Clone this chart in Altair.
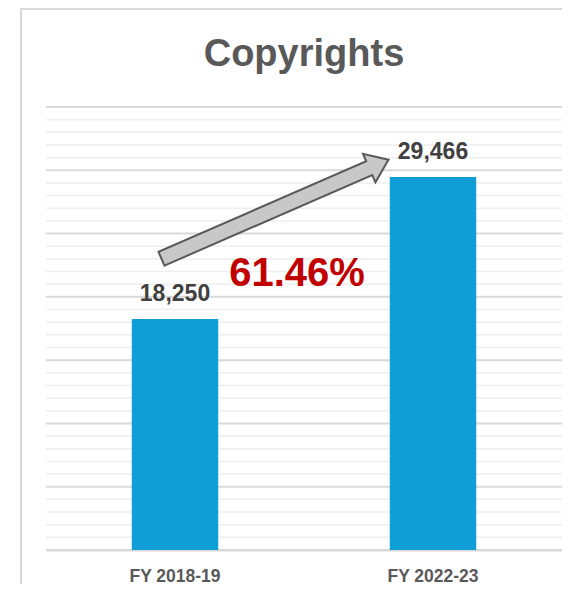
import math
import altair as alt
import pandas as pd

# ---- data ----
categories = ["FY 2018-19", "FY 2022-23"]
values = [18250, 29466]
grid_values = list(range(0, 35001, 1000))
growth_label = f"{(values[1] / values[0] - 1) * 100:.2f}%"

df = pd.DataFrame({"year": categories, "count": values})
ann = pd.DataFrame({"year": [categories[0]], "count": [values[0]], "label": [growth_label]})
grid_df = pd.DataFrame({"v": grid_values})

# ---- styling constants ----
FONT = "Liberation Sans"
W, H = 516, 443
PAD_BOTTOM = 34
BAR_COLOR = "#0F9ED5"
FRAME_COLOR = "#d9d9d9"

# arrow geometry (pixel offsets relative to top-centre of first bar)
tail = (-13.5, -60.3)
tip = (213.5, -159.3)
shaft_hw, head_hw, head_len = 7.5, 15.5, 21.0
dxa, dya = tip[0] - tail[0], tip[1] - tail[1]
L = math.hypot(dxa, dya)
ux, uy = dxa / L, dya / L
nx, ny = -uy, ux
bx, by = tip[0] - ux * head_len, tip[1] - uy * head_len
pts = [
    (tail[0] + nx * shaft_hw, tail[1] + ny * shaft_hw),
    (bx + nx * shaft_hw, by + ny * shaft_hw),
    (bx + nx * head_hw, by + ny * head_hw),
    tip,
    (bx - nx * head_hw, by - ny * head_hw),
    (bx - nx * shaft_hw, by - ny * shaft_hw),
    (tail[0] - nx * shaft_hw, tail[1] - ny * shaft_hw),
]
arrow_path = "M " + " L ".join(f"{px:.2f} {py:.2f}" for px, py in pts) + " Z"

yscale = alt.Scale(domain=[0, 35000], nice=False)
x_enc = alt.X(
    "year:N",
    sort=categories,
    title=None,
    scale=alt.Scale(paddingInner=0.665, paddingOuter=0.3325),
    axis=alt.Axis(
        labelFont=FONT, labelFontSize=17.5, labelFontWeight="bold", labelColor="#595959",
        ticks=False, tickSize=0, labelPadding=17, labelAngle=0,
        domainColor=FRAME_COLOR, domainWidth=2, grid=False,
    ),
)
x_plain = alt.X("year:N", sort=categories)

one = pd.DataFrame({"k": [0]})
frame_top = alt.Chart(one).mark_rect(color=FRAME_COLOR).encode(
    x=alt.value(-26), x2=alt.value(W), y=alt.value(-99), y2=alt.value(-97)
)
frame_left = alt.Chart(one).mark_rect(color=FRAME_COLOR).encode(
    x=alt.value(-26), x2=alt.value(-24), y=alt.value(-99), y2=alt.value(H + PAD_BOTTOM)
)

grid = alt.Chart(grid_df).mark_rule().encode(
    y=alt.Y("v:Q", scale=yscale, axis=None),
    x=alt.value(0),
    x2=alt.value(W),
    color=alt.condition("datum.v % 5000 === 0", alt.value("#d9d9d9"), alt.value("#eeeeee")),
    strokeWidth=alt.condition("datum.v % 5000 === 0", alt.value(2), alt.value(1.5)),
)

bars = alt.Chart(df).mark_bar(color=BAR_COLOR).encode(
    x=x_enc, y=alt.Y("count:Q", scale=yscale, axis=None, title=None)
)

labels = alt.Chart(df).mark_text(
    font=FONT, fontSize=23, fontWeight="bold", color="#404040",
    baseline="alphabetic", dy=-18,
).encode(x=x_plain, y=alt.Y("count:Q", axis=None), text=alt.Text("count:Q", format=","))

arrow = alt.Chart(ann).mark_point(
    shape=arrow_path, size=4, filled=True, fill="#c8c8c8", stroke="#595959",
    strokeWidth=2, opacity=1, fillOpacity=1,
).encode(x=x_plain, y=alt.Y("count:Q", axis=None))

pct = alt.Chart(ann).mark_text(
    font=FONT, fontSize=40, fontWeight="bold", color="#C00000",
    baseline="alphabetic", dx=122, dy=-33,
).encode(x=x_plain, y=alt.Y("count:Q", axis=None), text="label:N")

chart = alt.layer(frame_top, frame_left, grid, bars, labels, arrow, pct).properties(
    width=W,
    height=H,
    title=alt.TitleParams(
        "Copyrights", font=FONT, fontSize=38, fontWeight="bold", color="#595959",
        baseline="alphabetic", offset=-96, anchor="middle", frame="group",
    ),
    autosize=alt.AutoSizeParams(type="none"),
    padding={"left": 38, "top": 99, "right": 0, "bottom": PAD_BOTTOM},
    background="white",
).configure_view(stroke=None)

chart.save("out.html", embed_options={"renderer": "svg", "actions": False})
